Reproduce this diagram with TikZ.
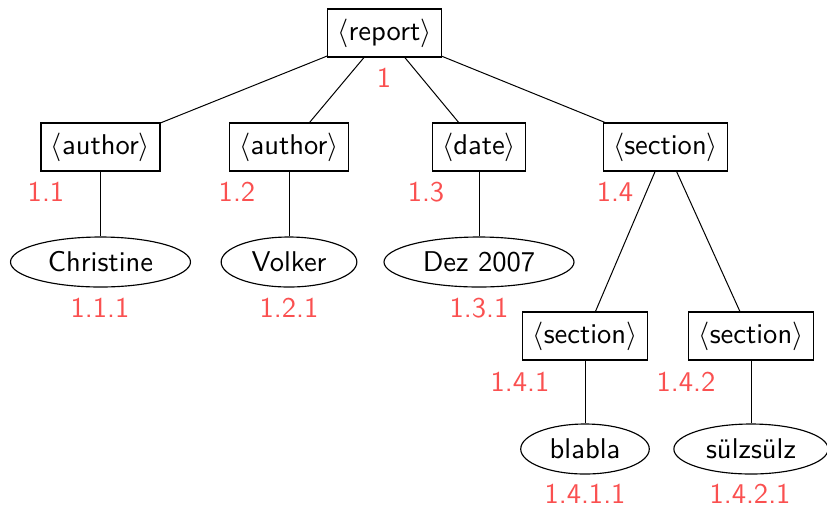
\documentclass[tikz,border=0pt]{standalone}
\usepackage{fontspec}
\usetikzlibrary{shapes.geometric}
\definecolor{labred}{RGB}{250,80,80}
\begin{document}
\begin{tikzpicture}[x=0.35pt,y=-0.35pt,
  font=\sffamily,
  tag/.style={draw,rectangle,line width=0.4pt,minimum height=16.8pt,inner xsep=3.5pt,inner ysep=0pt},
  leaf/.style={draw,ellipse,line width=0.4pt,minimum height=17.5pt,inner sep=0pt},
  lab/.style={text=labred,inner sep=0pt},
  edge/.style={draw,line width=0.35pt}]
\useasboundingbox (0,0) rectangle (827,509);
% nodes
\node[tag] (r) at (384.5,33) {$\langle$report$\rangle$};
\node[tag] (a1) at (100.5,147) {$\langle$author$\rangle$};
\node[tag] (a2) at (289,147) {$\langle$author$\rangle$};
\node[tag] (d) at (479,147) {$\langle$date$\rangle$};
\node[tag] (s) at (665.5,147) {$\langle$section$\rangle$};
\node[leaf,minimum width=63pt] (c) at (100.5,262) {Christine};
\node[leaf,minimum width=47.5pt] (v) at (289,262) {Volker};
\node[leaf,minimum width=66.5pt] (dz) at (479,262) {Dez 2007};
\node[tag] (s1) at (585,336) {$\langle$section$\rangle$};
\node[tag] (s2) at (751,336) {$\langle$section$\rangle$};
\node[leaf,minimum width=45pt] (b) at (585,449) {blabla};
\node[leaf,minimum width=54pt] (sz) at (751,449) {sülzsülz};
% labels
\node[lab] (lr) at (384,78) {1};
\node[lab] (la1) at (46,192) {1.1};
\node[lab] (la2) at (237,192) {1.2};
\node[lab] (ld) at (426,192) {1.3};
\node[lab] (ls) at (615,192) {1.4};
\node[lab] (lc) at (100,308) {1.1.1};
\node[lab] (lv) at (289,308) {1.2.1};
\node[lab] (ldz) at (479,308) {1.3.1};
\node[lab] (ls1) at (520,382) {1.4.1};
\node[lab] (ls2) at (686,382) {1.4.2};
\node[lab] (lb) at (585,494) {1.4.1.1};
\node[lab] (lsz) at (750,494) {1.4.2.1};
% edges
\draw[edge] (r) -- (a1);
\draw[edge] (r) -- (a2);
\draw[edge] (r) -- (d);
\draw[edge] (r) -- (s);
\draw[edge] (a1) -- (c);
\draw[edge] (a2) -- (v);
\draw[edge] (d) -- (dz);
\draw[edge] (s) -- (s1);
\draw[edge] (s) -- (s2);
\draw[edge] (s1) -- (b);
\draw[edge] (s2) -- (sz);
\end{tikzpicture}
\end{document}
